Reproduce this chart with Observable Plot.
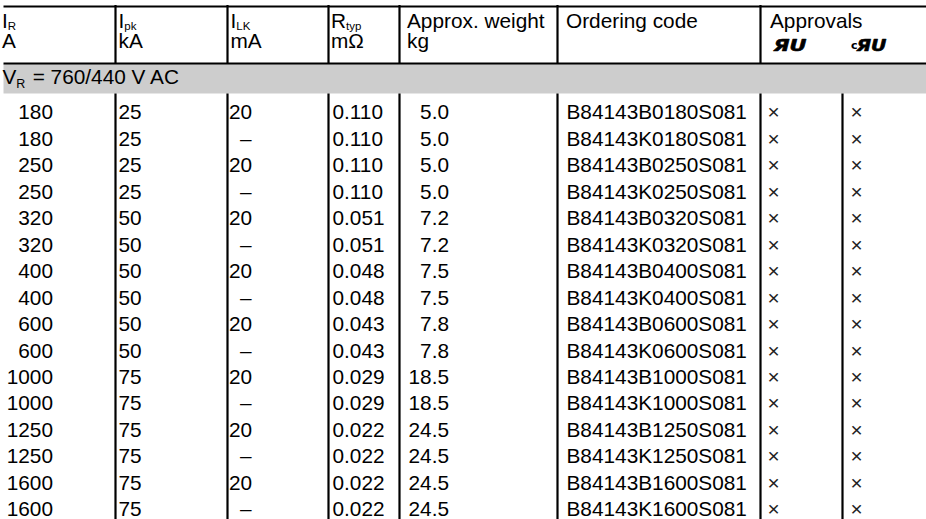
<!DOCTYPE html>
<html><head><meta charset="utf-8">
<script src="https://cdn.jsdelivr.net/npm/d3@7"></script>
<script src="https://cdn.jsdelivr.net/npm/@observablehq/plot@0.6"></script>
<style>
body{margin:0;background:#fff}
</style>
</head><body><div id="chart"></div>
<script>
// ---- data ----
const ratedCurrent = [180,180,250,250,320,320,400,400,600,600,1000,1000,1250,1250,1600,1600];
const peakCurrent = [25,25,25,25,50,50,50,50,50,50,75,75,75,75,75,75];
const leakageCurrent = [20,null,20,null,20,null,20,null,20,null,20,null,20,null,20,null];
const resistance = ["0.110","0.110","0.110","0.110","0.051","0.051","0.048","0.048","0.043","0.043","0.029","0.029","0.022","0.022","0.022","0.022"];
const weight = ["5.0","5.0","5.0","5.0","7.2","7.2","7.5","7.5","7.8","7.8","18.5","18.5","24.5","24.5","24.5","24.5"];
const orderingCode = ["B84143B0180S081","B84143K0180S081","B84143B0250S081","B84143K0250S081","B84143B0320S081","B84143K0320S081","B84143B0400S081","B84143K0400S081","B84143B0600S081","B84143K0600S081","B84143B1000S081","B84143K1000S081","B84143B1250S081","B84143K1250S081","B84143B1600S081","B84143K1600S081"];
const approvalUR = [true,true,true,true,true,true,true,true,true,true,true,true,true,true,true,true];
const approvalCUR = [true,true,true,true,true,true,true,true,true,true,true,true,true,true,true,true];
const headerSymbols = ["I","I","I","R","Approx. weight","Ordering code","Approvals"];
const headerSubs = ["R","pk","LK","typ","","",""];
const headerUnits = ["A","kA","mA","mΩ","kg","",""];
const groupSymbol = "V", groupSub = "R", groupText = " = 760/440 V AC";
const approvalMarks = ["ЯU","ЯU"];
const approvalPrefix = ["c"];

// ---- layout ----
const W = 926, H = 519;
const FONT = '"Liberation Sans", Arial, Helvetica, sans-serif';
const FS = 20.8, SUB = 11.5;
const headerX = [1.5, 118, 230, 330.5, 406.5, 565.5, 769.5];
const headerDividers = [115, 227, 328, 399, 557, 760];
const bodyDividers = [115, 227, 328, 399, 557, 760, 842];
const markX = [773, 856];
const markWidth = [33, 30];
const rowBase = i => 118.7 + i * 26.48;

const ctx = document.createElement("canvas").getContext("2d");
const tw = (s, size, w = "normal") => { ctx.font = `${w} ${size}px ${FONT}`; return ctx.measureText(s).width; };

const rows = ratedCurrent.map((d, i) => ({
  i, y: rowBase(i), ir: String(d), ipk: String(peakCurrent[i]),
  ilk: leakageCurrent[i] == null ? "–" : String(leakageCurrent[i]),
  dash: leakageCurrent[i] == null,
  r: resistance[i], w: weight[i], code: orderingCode[i],
  ur: approvalUR[i] ? "×" : "", cur: approvalCUR[i] ? "×" : ""
}));

const headers = headerSymbols.map((s, i) => ({
  x: headerX[i], s, sub: headerSubs[i], unit: headerUnits[i],
  subX: headerX[i] + tw(s, FS)
}));

const gSubX = 2 + tw(groupSymbol, FS);
const gRestX = gSubX + tw(groupSub, 12.5) + 1.5;

const T = (data, o) => Plot.text(data, {fontFamily: FONT, fontSize: FS, lineAnchor: "bottom", fill: "black", ...o});

const chart = Plot.plot({
  width: W, height: H, margin: 0,
  x: {type: "identity", axis: null}, y: {type: "identity", axis: null},
  style: {fontFamily: FONT, background: "white"},
  marks: [
    Plot.rect([0], {x1: 3.5, x2: W, y1: 64, y2: 93.5, fill: "#cdcdcd"}),
    Plot.ruleY([6, 63], {x1: 3.5, x2: W, stroke: "black", strokeWidth: 2.2}),
    Plot.ruleX(headerDividers, {y1: 5, y2: 64, stroke: "black", strokeWidth: 2.2}),
    Plot.ruleX(bodyDividers, {y1: 93.5, y2: H, stroke: "black", strokeWidth: 2.2}),
    // header
    T(headers, {x: "x", y: () => 27, text: "s", textAnchor: "start"}),
    T(headers.filter(d => d.sub), {x: "subX", y: () => 29.5, text: "sub", textAnchor: "start", fontSize: SUB}),
    T(headers.filter(d => d.unit), {x: "x", y: () => 47, text: "unit", textAnchor: "start"}),
    T(approvalPrefix, {x: () => 850.5, y: () => 48.5, text: d => d, textAnchor: "start", fontSize: 11, fontWeight: "bold", fontFamily: '"DejaVu Sans", sans-serif'}),
    T(approvalMarks, {x: (d, i) => markX[i], y: () => 50, text: d => d, textAnchor: "start", fontSize: 15, fontWeight: "bold", fontStyle: "italic", fontFamily: '"DejaVu Sans", sans-serif', stroke: "black", strokeWidth: 0.6}),
    // group label
    T([groupSymbol], {x: () => 2, y: () => 83.3, text: d => d, textAnchor: "start"}),
    T([groupSub], {x: () => gSubX, y: () => 87, text: d => d, textAnchor: "start", fontSize: 12.5}),
    T([groupText], {x: () => gRestX, y: () => 83.3, text: d => d, textAnchor: "start"}),
    // body
    T(rows, {x: () => 52.5, y: "y", text: "ir", textAnchor: "end"}),
    T(rows, {x: () => 118, y: "y", text: "ipk", textAnchor: "start"}),
    T(rows, {x: d => d.dash ? 239.5 : 228.5, y: "y", text: "ilk", textAnchor: "start"}),
    T(rows, {x: () => 332, y: "y", text: "r", textAnchor: "start"}),
    T(rows, {x: () => 448.5, y: "y", text: "w", textAnchor: "end"}),
    T(rows, {x: () => 566, y: "y", text: "code", textAnchor: "start"}),
    T(rows, {x: () => 767, y: "y", text: "ur", textAnchor: "start", fill: "#222"}),
    T(rows, {x: () => 850, y: "y", text: "cur", textAnchor: "start", fill: "#222"})
  ]
});
// stretch the approval marks to the logo's width
d3.select(chart).selectAll("text")
  .filter(function () { return this.textContent === "ЯU"; })
  .each(function (d, i) {
    this.setAttribute("textLength", markWidth[i]);
    this.setAttribute("lengthAdjust", "spacingAndGlyphs");
  });
document.getElementById("chart").appendChild(chart);
</script>
</body></html>
